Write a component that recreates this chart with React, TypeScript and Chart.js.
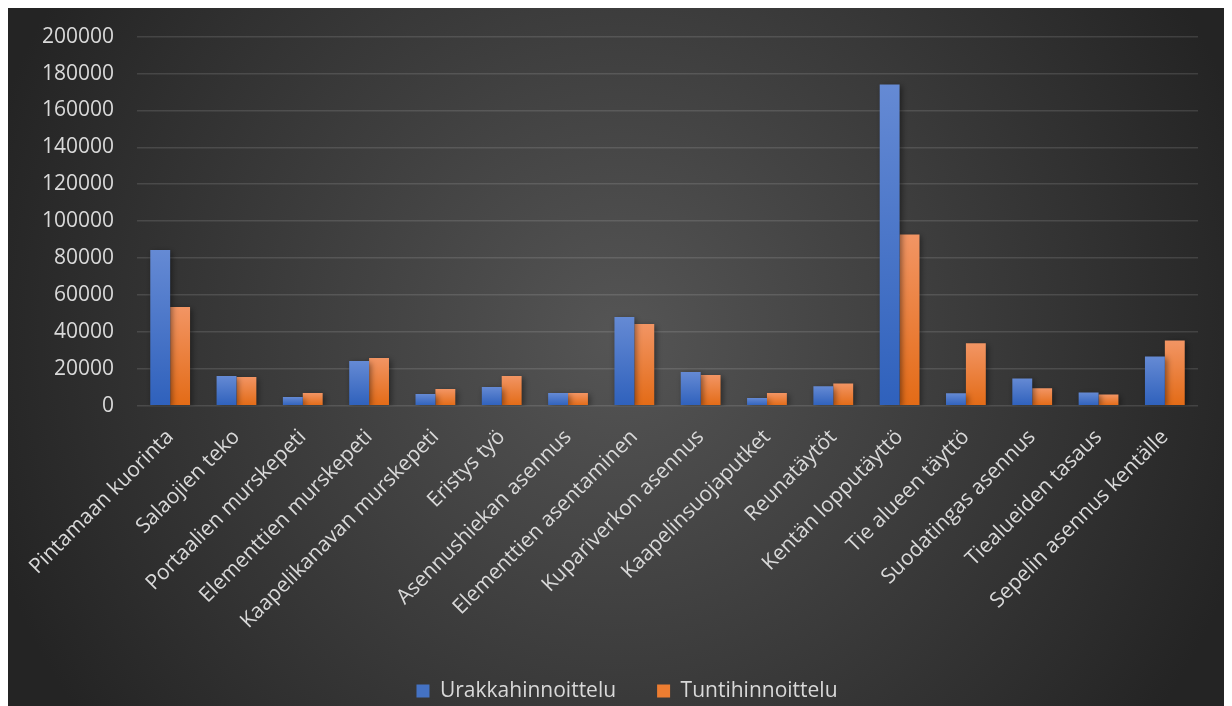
import React, { useEffect, useRef } from "react";
import { Chart, registerables } from "chart.js";

Chart.register(...registerables);

const categories = [
  "Pintamaan kuorinta",
  "Salaojien teko",
  "Portaalien murskepeti",
  "Elementtien murskepeti",
  "Kaapelikanavan murskepeti",
  "Eristys työ",
  "Asennushiekan asennus",
  "Elementtien asentaminen",
  "Kupariverkon asennus",
  "Kaapelinsuojaputket",
  "Reunatäytöt",
  "Kentän lopputäyttö",
  "Tie alueen täyttö",
  "Suodatingas asennus",
  "Tiealueiden tasaus",
  "Sepelin asennus kentälle",
];

const urakkahinnoittelu = [
  84400, 16100, 4700, 24200, 6300, 10100, 6900, 48100, 18300, 4200, 10500,
  174100, 6700, 14800, 7200, 26700,
];

const tuntihinnoittelu = [
  53500, 15600, 6900, 25900, 9000, 16100, 6900, 44300, 16600, 6900, 12100,
  92800, 33800, 9400, 6100, 35400,
];

const yTicks = { min: 0, max: 200000, step: 20000 };

const FONT = "'Open Sans', 'Noto Sans', sans-serif";
const TEXT = "#d9d9d9";

function barGradient(ctx: any, top: [string, string]) {
  const chart = ctx.chart;
  const area = chart.chartArea;
  if (!area) return top[1];
  const v = ctx.raw as number;
  const yScale = chart.scales.y;
  const yTop = yScale.getPixelForValue(v);
  const yBase = yScale.getPixelForValue(0);
  if (!isFinite(yTop) || !isFinite(yBase) || yBase - yTop < 1) return top[1];
  const g = chart.ctx.createLinearGradient(0, yTop, 0, yBase);
  g.addColorStop(0, top[0]);
  g.addColorStop(1, top[1]);
  return g;
}

const backgroundPlugin = {
  id: "bgGradient",
  beforeDraw(chart: any) {
    const { ctx, width, height } = chart;
    ctx.save();
    const cx = width * 0.5;
    const cy = height * 0.47;
    const g = ctx.createRadialGradient(cx, cy, 0, cx, cy, Math.hypot(cx, cy) * 0.95);
    g.addColorStop(0, "#555555");
    g.addColorStop(1, "#242424");
    ctx.fillStyle = g;
    ctx.fillRect(0, 0, width, height);
    ctx.restore();
  },
};

const shadowPlugin = {
  id: "barShadow",
  beforeDatasetsDraw(chart: any) {
    const ctx = chart.ctx;
    ctx.save();
    ctx.shadowColor = "rgba(0,0,0,0.45)";
    ctx.shadowBlur = 6;
    ctx.shadowOffsetX = 2;
    ctx.shadowOffsetY = 2;
  },
  afterDatasetsDraw(chart: any) {
    chart.ctx.restore();
  },
};

const legendShiftPlugin = {
  id: "legendShift",
  afterLayout(chart: any) {
    const lg = chart.legend;
    if (lg) {
      lg.left += 7;
      lg.right += 7;
    }
  },
};

export default function App() {
  const ref = useRef<HTMLCanvasElement | null>(null);

  useEffect(() => {
    if (!ref.current) return;
    const chart = new Chart(ref.current, {
      type: "bar",
      data: {
        labels: categories,
        datasets: [
          {
            label: "Urakkahinnoittelu",
            data: urakkahinnoittelu,
            backgroundColor: (c: any) => barGradient(c, ["#658ad4", "#2f61bc"]),
            borderWidth: 0,
            categoryPercentage: 0.6,
            barPercentage: 1.0,
          },
          {
            label: "Tuntihinnoittelu",
            data: tuntihinnoittelu,
            backgroundColor: (c: any) => barGradient(c, ["#f29564", "#e36b16"]),
            borderWidth: 0,
            categoryPercentage: 0.6,
            barPercentage: 1.0,
          },
        ],
      },
      options: {
        responsive: false,
        animation: false,
        layout: { padding: { left: 34, right: 30, top: 28.7, bottom: 0 } },
        plugins: {
          tooltip: { enabled: false },
          legend: {
            position: "bottom",
            maxHeight: 68.5,
            labels: {
              color: TEXT,
              font: { family: FONT, size: 21 },
              boxWidth: 13,
              boxHeight: 13,
              padding: 41,
              generateLabels: (ch: any) =>
                ch.data.datasets.map((ds: any, i: number) => ({
                  text: ds.label,
                  fillStyle: i === 0 ? "#4472c4" : "#ed7d31",
                  strokeStyle: "transparent",
                  lineWidth: 0,
                  fontColor: TEXT,
                  hidden: false,
                  datasetIndex: i,
                })),
            },
          },
        },
        scales: {
          x: {
            grid: { display: false, drawTicks: false },
            border: { display: false },
            ticks: {
              color: TEXT,
              font: { family: FONT, size: 21 },
              minRotation: 45,
              maxRotation: 45,
              autoSkip: false,
              padding: 19,
            },
            afterFit: (s: any) => {
              s.height = 233.8;
            },
          },
          y: {
            min: yTicks.min,
            max: yTicks.max,
            grid: {
              color: "rgba(255,255,255,0.12)",
              lineWidth: 1.6,
              drawTicks: false,
            },
            border: { display: false },
            ticks: {
              stepSize: yTicks.step,
              color: TEXT,
              font: { family: FONT, size: 21 },
              padding: 23,
              callback: (v: any) => String(v),
            },
            afterFit: (s: any) => {
              s.width = 95;
              s.paddingTop = 0;
              s.paddingBottom = 0;
            },
          },
        },
      },
      plugins: [backgroundPlugin, shadowPlugin, legendShiftPlugin],
    });
    return () => chart.destroy();
  }, []);

  return (
    <canvas
      ref={ref}
      width={1220}
      height={700}
      style={{ display: "block", width: 1220, height: 700 }}
    />
  );
}
